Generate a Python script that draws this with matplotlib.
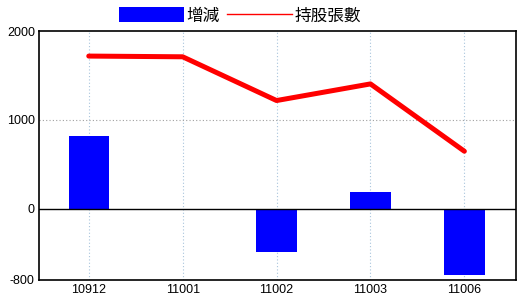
import matplotlib
matplotlib.use("Agg")
import matplotlib.pyplot as plt
from matplotlib.patches import Patch
from matplotlib.lines import Line2D

plt.rcParams['font.family'] = ['Noto Sans CJK TC', 'DejaVu Sans']

categories = ["10912", "11001", "11002", "11003", "11006"]
change = [820, 0, -490, 190, -745]
holdings = [1718, 1710, 1218, 1405, 648]
yticks = [-800, 0, 1000, 2000]

fig = plt.figure(figsize=(5.2, 3.0), dpi=100)
ax = fig.add_axes([39/520, 20/300, 477/520, 249/300])

x = list(range(len(categories)))
ax.bar(x, change, width=0.43, color="#0000ff", zorder=2)
ax.plot(x, holdings, color="#ff0000", lw=3.6, solid_capstyle="round",
        solid_joinstyle="round", zorder=3)

ax.set_xlim(-0.53, 4.55)
ax.set_ylim(-800, 2000)
ax.set_xticks(x)
ax.set_xticklabels(categories, fontsize=9, family="Liberation Sans")
ax.set_yticks(yticks)
ax.set_yticklabels([str(v) for v in yticks], fontsize=9, family="Liberation Sans")
ax.tick_params(length=0, pad=3)

for xi in x:
    ax.axvline(xi, color="#a8c4dc", lw=0.8, ls=(0, (1, 2)), zorder=1)
ax.axhline(1000, color="#a0a0a0", lw=0.8, ls=(0, (1, 2)), zorder=1)
ax.axhline(0, color="black", lw=1.0, zorder=4)

for s in ax.spines.values():
    s.set_color("black")
    s.set_linewidth(1.2)

handles = [Patch(facecolor="#0000ff", edgecolor="none"),
           Line2D([0], [0], color="#ff0000", lw=1)]
fig.legend(handles, ["增減", "持股張數"], loc="center", bbox_to_anchor=(240/520, 1 - 16/300),
           ncol=2, frameon=False, fontsize=12, handlelength=3.9, handleheight=1.0,
           handletextpad=0.15, columnspacing=0.4, borderpad=0)

fig.savefig("out.png", dpi=100, facecolor="white")
